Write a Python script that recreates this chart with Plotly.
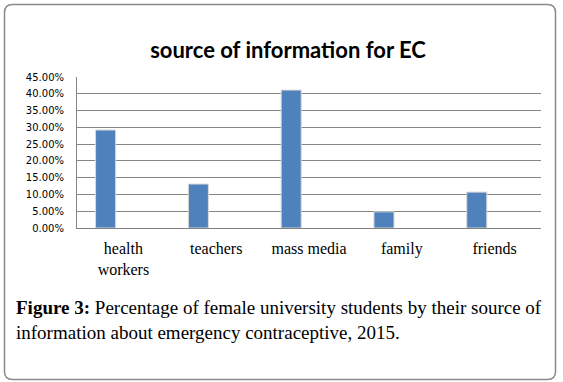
import plotly.graph_objects as go

categories = ["health<br>workers", "teachers", "mass media", "family", "friends"]
values = [0.292, 0.131, 0.411, 0.048, 0.107]
y_ticks = [0, 0.05, 0.10, 0.15, 0.20, 0.25, 0.30, 0.35, 0.40, 0.45]
title_text = "source of information for EC"
caption = ("<b>Figure 3:</b> Percentage of female university students by their source of<br>"
           "information about emergency contraceptive, 2015.")

W, H = 563, 382
L, R, T, B = 77, 22, 77, 154
PW, PH = W - L - R, H - T - B

def px(x):
    return (x - L) / PW

def py(y):
    return (H - B - y) / PH

fig = go.Figure()
fig.add_trace(go.Bar(
    x=categories, y=values,
    width=0.216, offset=-0.30,
    marker=dict(color="#4F81BD", line=dict(color="#d8d8d8", width=1)),
))

# rounded outer frame
x0, x1, y0, y1, r = 4.5, 555.5, 4.5, 379.5, 8
path = (f"M {px(x0+r)},{py(y0)} L {px(x1-r)},{py(y0)} "
        f"Q {px(x1)},{py(y0)} {px(x1)},{py(y0+r)} "
        f"L {px(x1)},{py(y1-r)} Q {px(x1)},{py(y1)} {px(x1-r)},{py(y1)} "
        f"L {px(x0+r)},{py(y1)} Q {px(x0)},{py(y1)} {px(x0)},{py(y1-r)} "
        f"L {px(x0)},{py(y0+r)} Q {px(x0)},{py(y0)} {px(x0+r)},{py(y0)} Z")

fig.update_layout(
    width=W, height=H,
    margin=dict(l=L, r=R, t=T, b=B, pad=0),
    paper_bgcolor="white", plot_bgcolor="white",
    showlegend=False,
    title=dict(text=f"<b>{title_text}</b>", x=288 / W, xanchor="center",
               y=1 - 50 / H, yanchor="middle",
               font=dict(family="Lato", size=22, color="black")),
    xaxis=dict(type="category", range=[-0.5, 4.5], showgrid=False,
               showline=True, linecolor="#808080", linewidth=1,
               ticks="", ticklabelstandoff=6,
               tickfont=dict(family="Liberation Serif", size=16, color="black")),
    yaxis=dict(range=[0, 0.45], tickvals=y_ticks, tickformat=".2%",
               showgrid=True, gridcolor="#868686", gridwidth=1,
               showline=True, linecolor="#868686", linewidth=1,
               zeroline=False, ticks="", ticklabelstandoff=10,
               tickfont=dict(family="DejaVu Sans", size=10, color="black")),
    shapes=[dict(type="path", xref="paper", yref="paper", path=path,
                 line=dict(color="#8a8a8a", width=1.5), fillcolor="rgba(0,0,0,0)",
                 layer="above")],
    annotations=[dict(text=caption, xref="paper", yref="paper",
                      x=px(14), y=py(320), xanchor="left", yanchor="middle",
                      align="left", showarrow=False,
                      font=dict(family="Liberation Serif", size=19, color="black"))],
)

fig.write_html("out.html", config={"displayModeBar": False},
               post_script="document.body.style.margin='0';")
